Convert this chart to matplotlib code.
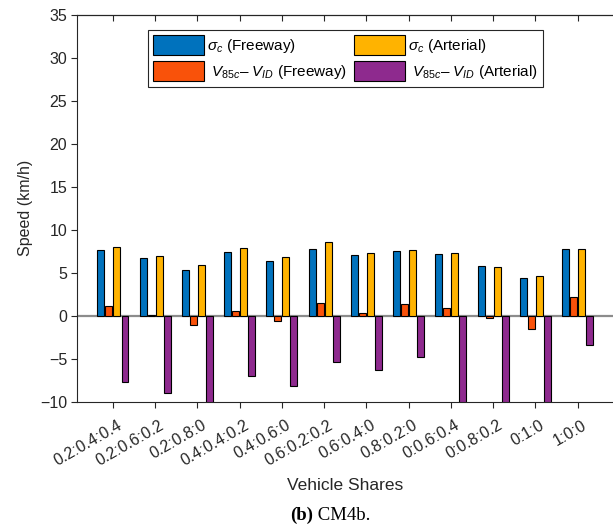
import numpy as np
import matplotlib
matplotlib.use("Agg")
import matplotlib.pyplot as plt
from matplotlib.transforms import ScaledTranslation

plt.rcParams['font.family'] = ['Liberation Sans', 'DejaVu Sans']
plt.rcParams['mathtext.fontset'] = 'custom'
plt.rcParams['mathtext.rm'] = 'Liberation Sans'
plt.rcParams['mathtext.it'] = 'Liberation Sans:italic'

shares = ["0.2:0.4:0.4", "0.2:0.6:0.2", "0.2:0.8:0", "0.4:0.4:0.2", "0.4:0.6:0",
          "0.6:0.2:0.2", "0.6:0.4:0", "0.8:0.2:0", "0:0.6:0.4", "0:0.8:0.2",
          "0:1:0", "1:0:0"]
sigma_freeway = [7.64, 6.74, 5.31, 7.40, 6.36, 7.79, 7.06, 7.52, 7.17, 5.81, 4.35, 7.72]
dv_freeway = [1.09, 0.05, -1.12, 0.58, -0.65, 1.51, 0.35, 1.32, 0.90, -0.27, -1.58, 2.17]
sigma_arterial = [7.99, 6.90, 5.93, 7.87, 6.79, 8.57, 7.33, 7.64, 7.25, 5.70, 4.62, 7.72]
dv_arterial = [-7.75, -8.95, -11.2, -7.05, -8.17, -5.35, -6.35, -4.80, -10.8, -11.5, -12.0, -3.44]

series = [
    (sigma_freeway, '#0072BD', r'$\sigma_c$ (Freeway)'),
    (dv_freeway, '#F9520A', r' $V_{85c}$– $V_{ID}$ (Freeway)'),
    (sigma_arterial, '#FFB300', r'$\sigma_c$ (Arterial)'),
    (dv_arterial, '#8E2A8E', r' $V_{85c}$– $V_{ID}$ (Arterial)'),
]
offsets = [-0.285, -0.095, 0.095, 0.285]

fig = plt.figure(figsize=(6.13, 5.26), dpi=100)
ax = fig.add_axes([0.1264, 0.2363, 0.8736, 0.7352])

x = np.arange(1, len(shares) + 1)
ax.axhline(0, color='#8c8c8c', lw=1.6, zorder=1)
handles = []
for (vals, col, lab), off in zip(series, offsets):
    h = ax.bar(x + off, vals, width=0.165, color=col, edgecolor='black',
               linewidth=0.8, label=lab, zorder=2)
    handles.append(h)

ax.set_xlim(0.16, 12.84)
ax.set_ylim(-10, 35)
ax.set_yticks(np.arange(-10, 36, 5))
ax.set_yticklabels([str(v).replace('-', '\u2212') for v in range(-10, 36, 5)])
ax.set_xticks(x)
ax.set_xticklabels(shares, rotation=30, ha='right', va='top', rotation_mode='anchor')
ax.tick_params(axis='both', direction='out', length=4, width=0.8,
               labelsize=11.5, color='#262626', labelcolor='#262626')
ax.tick_params(axis='x', pad=7.5)
# nudge the slanted labels to the right of their ticks
shift = ScaledTranslation(4 / 100, 0, fig.dpi_scale_trans)
for lbl in ax.get_xticklabels():
    lbl.set_transform(lbl.get_transform() + shift)

top = ax.secondary_xaxis('top')
top.set_xticks(x)
top.tick_params(direction='in', length=4, width=0.8, labeltop=False, color='#262626')
top.spines['top'].set_linewidth(0.8)

for side in ['left', 'bottom', 'top']:
    ax.spines[side].set_linewidth(0.8)
    ax.spines[side].set_color('#262626')
ax.spines['right'].set_visible(False)

ax.set_ylabel('Speed (km/h)', fontsize=11.5, color='#262626', labelpad=5)
ax.set_xlabel('Vehicle Shares', fontsize=12.5, color='#262626', labelpad=7)

leg = ax.legend(handles, [h.get_label() for h in handles], ncol=2,
                loc='upper center', bbox_to_anchor=(0.5, 0.961), borderaxespad=0,
                fontsize=11, handlelength=3.3, handleheight=1.6,
                handletextpad=0.2, columnspacing=0.5, labelspacing=0.4,
                borderpad=0.35, fancybox=False, framealpha=1,
                edgecolor='#262626')
leg.get_frame().set_linewidth(0.8)

fig.text(0.511, 0.012, '(b)', ha='right', va='baseline',
         family='Liberation Serif', fontweight='bold', fontsize=13.5)
fig.text(0.511, 0.012, ' CM4b.', ha='left', va='baseline',
         family='Liberation Serif', fontsize=13.5)

fig.savefig('out.png', dpi=100)
